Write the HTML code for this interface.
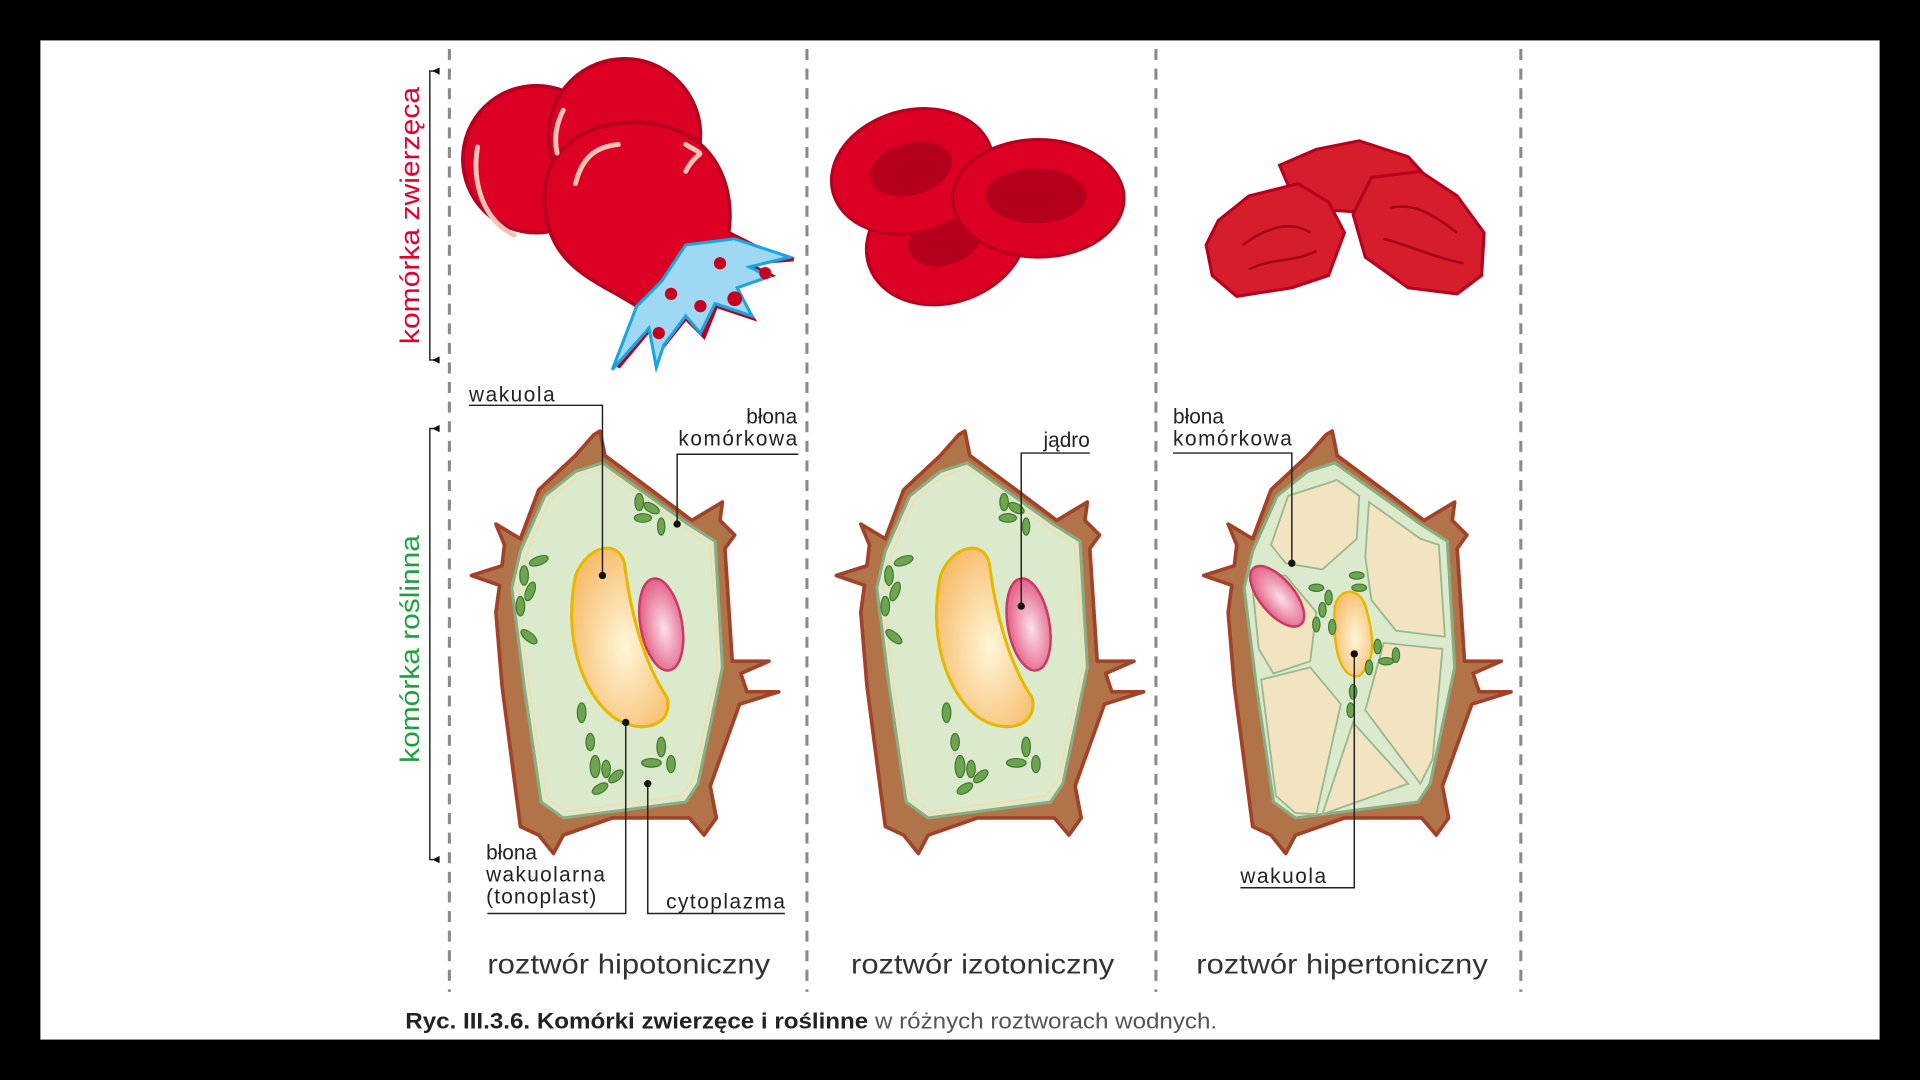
<!DOCTYPE html><html><head><meta charset="utf-8"><style>html,body{margin:0;padding:0;background:#000;width:1920px;height:1080px;overflow:hidden}svg{display:block}text{font-family:"Liberation Sans",sans-serif}</style></head><body>
<svg width="1920" height="1080" viewBox="0 0 1568 882" xmlns="http://www.w3.org/2000/svg">
<defs>
<radialGradient id="vac" cx="0.55" cy="0.55" r="0.6"><stop offset="0" stop-color="#fff6d8"/><stop offset="1" stop-color="#f7bd6e"/></radialGradient>
<radialGradient id="nuc" cx="0.55" cy="0.55" r="0.6"><stop offset="0" stop-color="#fbe0e8"/><stop offset="1" stop-color="#e0557e"/></radialGradient>
<g id="wall">
<path d="M490,352 L494,372 L525,395 L565,425 L590,410 L588,425 L600,437 L592,448 L598,540 L628,540 L605,550 L610,565 L636,565 L604,575 L580,642 L585,668 L575,682 L563,668 L500,668 L460,682 L452,697 L440,682 L425,675 L410,560 L405,500 L408,478 L385,470 L410,462 L412,445 L405,428 L425,440 L440,400 L470,372 L485,355 Z" fill="#b07448" stroke="#a1432a" stroke-width="3" stroke-linejoin="round"/>
</g>
<g id="inner">
<path d="M492,378 L562,428 L584,442 L590,545 L570,640 L560,655 L460,668 L442,655 L428,560 L418,480 L425,450 L445,405 L470,385 Z" fill="#dbeacc" stroke="#8aac83" stroke-width="2.5"/>
<path d="M492,382 L560,432 L580,446 L586,545 L566,637 L556,650 L462,663 L446,651 L432,560 L423,480 L430,452 L449,408 L472,389 Z" fill="none" stroke="#f0dfae" stroke-width="1.5"/>
</g>
</defs>
<rect x="33" y="33" width="1502" height="816" fill="#fff"/>
<g stroke="#8a8a8a" stroke-width="2.5" stroke-dasharray="9,7">
<line x1="367" y1="40" x2="367" y2="810"/><line x1="659" y1="40" x2="659" y2="810"/><line x1="944" y1="40" x2="944" y2="810"/><line x1="1242" y1="40" x2="1242" y2="810"/></g>
<g stroke="#333" stroke-width="1.3" fill="none"><path d="M359,58 H351 V294 H359"/><path d="M359,350 H351 V702 H359"/></g>
<g fill="#111"><path d="M353,58 l6,-3 v6z"/><path d="M353,294 l6,-3 v6z"/><path d="M353,350 l6,-3 v6z"/><path d="M353,702 l6,-3 v6z"/></g>
<text transform="translate(342,176) rotate(-90)" text-anchor="middle" font-size="22" fill="#e3002b" textLength="210" lengthAdjust="spacingAndGlyphs">komórka zwierzęca</text>
<text transform="translate(342,530) rotate(-90)" text-anchor="middle" font-size="22" fill="#19a33a" textLength="186" lengthAdjust="spacingAndGlyphs">komórka roślinna</text>
<g stroke="#b5001f" stroke-width="3" fill="#dc0025">
<circle cx="438" cy="130" r="60"/><circle cx="510" cy="110" r="62"/>
<path d="M525,100 C590,105 600,160 595,190 L625,205 L648,212 L610,215 L630,225 L600,235 L615,260 L585,250 L575,275 L560,260 L540,285 L530,270 L505,300 L520,250 C490,230 450,220 445,170 C440,120 480,98 525,100 Z"/>
</g>
<path d="M560,200 L600,195 L645,210 L612,218 L628,226 L602,235 L614,258 L584,248 L572,272 L560,258 L542,282 L536,300 L530,268 L500,302 L520,250 L540,230 Z" fill="#9fd8f3" stroke="#1aa4e0" stroke-width="2.5"/>
<g fill="#c8001f"><circle cx="600" cy="244" r="6"/><circle cx="572" cy="250" r="5"/><circle cx="548" cy="240" r="5"/><circle cx="538" cy="272" r="5"/><circle cx="625" cy="223" r="5"/><circle cx="588" cy="215" r="5"/></g>
<g stroke="#f6c2b6" stroke-width="4" fill="none" stroke-linecap="round"><path d="M390,120 C385,150 395,180 420,192"/><path d="M460,90 C455,100 452,112 455,125"/><path d="M470,150 C475,130 485,120 505,118"/><path d="M560,140 C570,120 580,130 560,118"/></g>
<g stroke="#b5001f" stroke-width="2.5">
<ellipse cx="773" cy="195" rx="67" ry="52" fill="#dc0025" transform="rotate(-20 773 195)"/>
<ellipse cx="772" cy="195" rx="30" ry="20" fill="#b4001c" transform="rotate(-20 772 195)"/>
<ellipse cx="745" cy="140" rx="67" ry="50" fill="#dc0025" transform="rotate(-15 745 140)"/>
<ellipse cx="744" cy="138" rx="33" ry="20" fill="#b4001c" transform="rotate(-15 744 138)"/>
<ellipse cx="848" cy="162" rx="70" ry="48" fill="#dc0025"/>
<ellipse cx="846" cy="160" rx="40" ry="21" fill="#b4001c"/>
</g>
<g stroke="#b5001f" stroke-width="2.5" fill="#d61d2c">
<path d="M1045,135 L1075,122 L1110,115 L1150,128 L1170,150 L1140,175 L1060,170 Z"/>
<path d="M995,180 L1020,160 L1060,150 L1085,165 L1098,190 L1085,225 L1055,235 L1010,242 L990,225 L985,200 Z"/>
<path d="M1120,145 L1160,140 L1190,160 L1212,190 L1210,225 L1190,240 L1150,235 L1115,210 L1105,175 Z"/>
</g>
<g stroke="#a5001a" stroke-width="2" fill="none"><path d="M1015,200 C1035,185 1055,180 1070,190"/><path d="M1020,220 C1040,210 1055,215 1075,205"/><path d="M1135,170 C1155,165 1170,175 1190,190"/><path d="M1130,195 C1150,200 1170,210 1195,215"/></g>
<use href="#wall"/><use href="#inner"/>
<use href="#wall" x="298"/><use href="#inner" x="298"/>
<use href="#wall" x="598"/>
<path d="M1090,378 L1160,428 L1182,442 L1188,545 L1168,640 L1158,655 L1058,668 L1040,655 L1026,560 L1016,480 L1023,450 L1043,405 L1068,385 Z" fill="#dbeacc" stroke="#8aac83" stroke-width="2.5"/>
<g fill="#f2e4c0" stroke="#9ab890" stroke-width="1.5">
<path d="M1092,392 L1110,405 L1108,440 L1080,465 L1050,460 L1038,445 L1052,405 Z"/>
<path d="M1118,410 L1160,440 L1175,445 L1180,520 L1140,515 L1120,490 L1115,455 Z"/>
<path d="M1022,470 L1050,470 L1075,500 L1070,540 L1040,550 L1028,530 Z"/>
<path d="M1130,525 L1178,530 L1170,620 L1160,640 L1115,580 Z"/>
<path d="M1030,555 L1070,545 L1095,575 L1075,665 L1058,664 L1042,650 Z"/>
<path d="M1105,590 L1150,640 L1080,665 Z"/>
</g>
<path d="M470,470 C480,445 505,440 510,460 C515,500 525,540 545,570 C550,595 520,600 500,585 C475,565 460,520 470,470 Z" fill="url(#vac)" stroke="#e7b800" stroke-width="2.5"/>
<ellipse cx="540" cy="510" rx="17" ry="38" fill="url(#nuc)" stroke="#c93a62" stroke-width="2" transform="rotate(-10 540 510)"/>
<path d="M768,470 C778,445 803,440 808,460 C813,500 823,540 843,570 C848,595 818,600 798,585 C773,565 758,520 768,470 Z" fill="url(#vac)" stroke="#e7b800" stroke-width="2.5"/>
<ellipse cx="840" cy="510" rx="17" ry="38" fill="url(#nuc)" stroke="#c93a62" stroke-width="2" transform="rotate(-10 840 510)"/>
<path d="M1090,495 C1095,478 1112,480 1116,498 C1122,520 1124,540 1110,552 C1095,555 1088,530 1090,495 Z" fill="url(#vac)" stroke="#e7b800" stroke-width="2"/>
<ellipse cx="1043" cy="487" rx="14" ry="30" fill="url(#nuc)" stroke="#c93a62" stroke-width="2" transform="rotate(-40 1043 487)"/>
<g fill="#6ea44f" stroke="#3f7a32" stroke-width="1">
<g id="chls"><ellipse cx="440" cy="458" rx="8" ry="3.5" transform="rotate(-20 440 458)"/><ellipse cx="428" cy="470" rx="3.5" ry="8"/><ellipse cx="433" cy="483" rx="3.5" ry="8" transform="rotate(20 433 483)"/><ellipse cx="425" cy="495" rx="3.5" ry="8"/><ellipse cx="432" cy="520" rx="8" ry="3.5" transform="rotate(40 432 520)"/>
<ellipse cx="522" cy="410" rx="3.5" ry="7"/><ellipse cx="532" cy="415" rx="7" ry="3.5" transform="rotate(30 532 415)"/><ellipse cx="525" cy="423" rx="7" ry="3.5"/><ellipse cx="540" cy="430" rx="3" ry="7"/>
<ellipse cx="475" cy="582" rx="3.5" ry="8"/><ellipse cx="482" cy="606" rx="3.5" ry="7"/><ellipse cx="486" cy="626" rx="4" ry="9"/><ellipse cx="495" cy="628" rx="3.5" ry="7"/><ellipse cx="490" cy="644" rx="7" ry="3.5" transform="rotate(-30 490 644)"/><ellipse cx="503" cy="634" rx="7" ry="3.5" transform="rotate(-40 503 634)"/><ellipse cx="540" cy="610" rx="3.5" ry="8"/><ellipse cx="532" cy="623" rx="8" ry="3.5"/><ellipse cx="548" cy="624" rx="3.5" ry="7"/></g>
<use href="#chls" x="298"/>
<ellipse cx="1075" cy="480" rx="6" ry="3"/><ellipse cx="1085" cy="488" rx="3" ry="6"/><ellipse cx="1080" cy="498" rx="3" ry="6"/><ellipse cx="1108" cy="470" rx="6" ry="3"/><ellipse cx="1110" cy="480" rx="6" ry="3"/><ellipse cx="1075" cy="510" rx="3" ry="6"/><ellipse cx="1088" cy="512" rx="3" ry="6"/><ellipse cx="1125" cy="528" rx="3" ry="6"/><ellipse cx="1132" cy="540" rx="6" ry="3"/><ellipse cx="1118" cy="545" rx="3" ry="6"/><ellipse cx="1105" cy="565" rx="3" ry="6"/><ellipse cx="1103" cy="580" rx="3" ry="6"/><ellipse cx="1140" cy="535" rx="3" ry="6"/>
</g>
<g stroke="#222" stroke-width="1.2" fill="none">
<path d="M383,331 H492 V470"/><path d="M652,371 H553 V428"/><path d="M398,746 H511 V590"/><path d="M641,746 H529 V640"/>
<path d="M890,370 H834 V495"/><path d="M958,370 H1055 V460"/><path d="M1013,725 H1106 V534"/>
</g>
<g fill="#111"><circle cx="492" cy="470" r="3"/><circle cx="553" cy="428" r="3"/><circle cx="511" cy="590" r="3"/><circle cx="529" cy="640" r="3"/><circle cx="834" cy="495" r="3"/><circle cx="1055" cy="460" r="3"/><circle cx="1106" cy="534" r="3"/></g>
<g font-size="17" fill="#222" lengthAdjust="spacingAndGlyphs">
<text x="383" y="328" textLength="70">wakuola</text>
<text x="651" y="346" text-anchor="end">błona</text><text x="651" y="364" text-anchor="end" textLength="97">komórkowa</text>
<text x="397" y="702">błona</text><text x="397" y="720" textLength="97">wakuolarna</text><text x="397" y="738" textLength="90">(tonoplast)</text>
<text x="544" y="742" textLength="97">cytoplazma</text>
<text x="890" y="365" text-anchor="end">jądro</text>
<text x="958" y="346">błona</text><text x="958" y="364" textLength="97">komórkowa</text>
<text x="1013" y="721" textLength="70">wakuola</text>
</g>
<g font-size="23" fill="#333"><text x="398" y="795" textLength="231" lengthAdjust="spacingAndGlyphs">roztwór hipotoniczny</text><text x="695" y="795" textLength="215" lengthAdjust="spacingAndGlyphs">roztwór izotoniczny</text><text x="977" y="795" textLength="238" lengthAdjust="spacingAndGlyphs">roztwór hipertoniczny</text></g>
<text x="331" y="840" font-size="18" fill="#222" textLength="663" lengthAdjust="spacingAndGlyphs"><tspan font-weight="bold">Ryc. III.3.6. Komórki zwierzęce i roślinne</tspan><tspan fill="#555"> w różnych roztworach wodnych.</tspan></text>
</svg>
</body></html>
